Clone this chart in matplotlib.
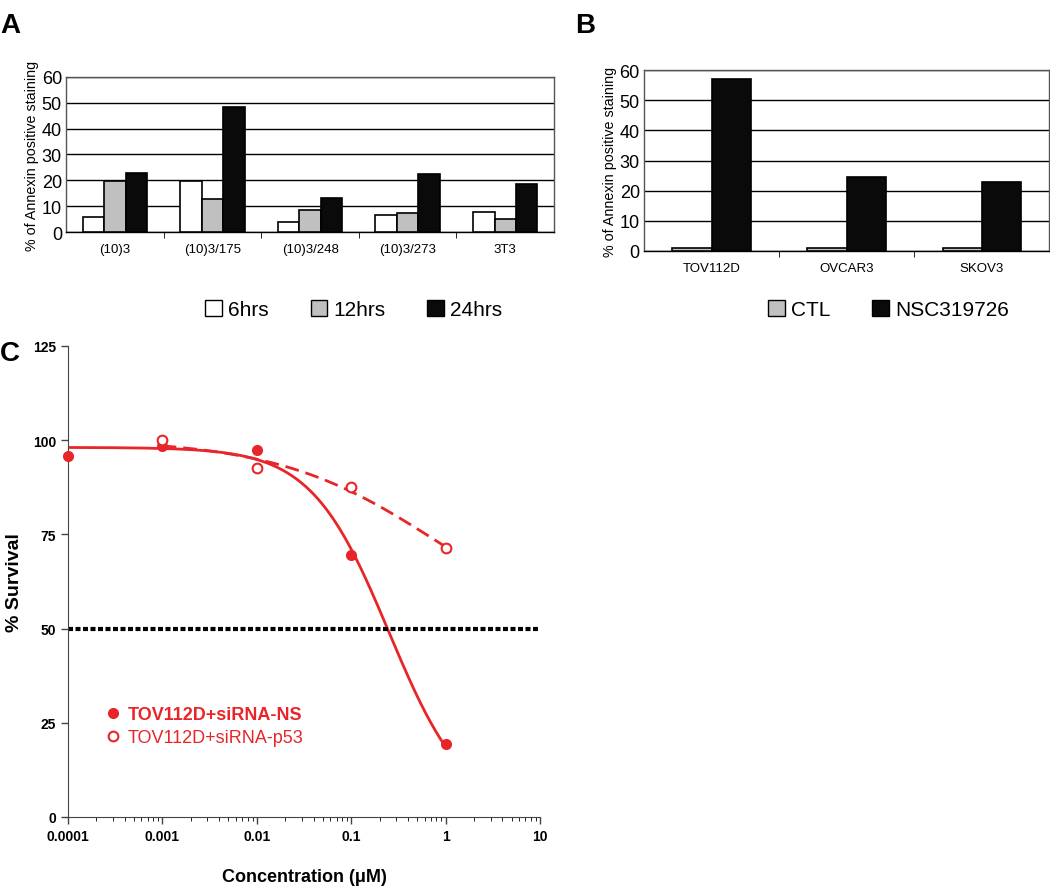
import matplotlib
matplotlib.use("Agg")
import matplotlib.pyplot as plt
from matplotlib.patches import Patch
from matplotlib.lines import Line2D
from matplotlib.ticker import FixedLocator, NullFormatter, LogLocator
import numpy as np

plt.rcParams['font.family'] = ['Liberation Sans', 'DejaVu Sans']

# ---- panel A data
lines_a = ["(10)3", "(10)3/175", "(10)3/248", "(10)3/273", "3T3"]
hrs6 = [6, 19.7, 3.7, 6.7, 7.8]
hrs12 = [19.7, 12.9, 8.6, 7.2, 5.1]
hrs24 = [23, 48.5, 13.1, 22.4, 18.6]

# ---- panel B data
lines_b = ["TOV112D", "OVCAR3", "SKOV3"]
ctl = [1.1, 1.1, 1.1]
nsc = [56.9, 24.6, 22.9]

# ---- panel C data
conc = [0.0001, 0.001, 0.01, 0.1, 1]
surv_ns = [95.8, 98.5, 97.5, 69.5, 19.5]
conc_p53 = [0.001, 0.01, 0.1, 1]
surv_p53 = [100, 92.5, 87.5, 71.5]

red = "#e8262a"

fig = plt.figure(figsize=(10.5, 8.87), dpi=100)

# ---------------- A
axA = fig.add_axes([0.0629, 0.7373, 0.4648, 0.1748])
x = np.arange(len(lines_a))
w = 0.22
axA.bar(x - w, hrs6, w, color="white", edgecolor="black", lw=1.2, zorder=3)
axA.bar(x, hrs12, w, color="#c0c0c0", edgecolor="black", lw=1.2, zorder=3)
axA.bar(x + w, hrs24, w, color="#0a0a0a", edgecolor="black", lw=1.2, zorder=3)
axA.set_xlim(-0.5, len(lines_a) - 0.5)
axA.set_ylim(0, 60)
axA.set_yticks(range(0, 61, 10))
axA.yaxis.grid(True, color="black", lw=1)
axA.set_xticks(x)
axA.set_xticklabels(lines_a, fontsize=9.5)
axA.xaxis.set_minor_locator(FixedLocator(np.arange(0.5, len(lines_a) - 0.5, 1)))
axA.tick_params(axis="x", which="major", length=0, pad=8)
axA.tick_params(axis="x", which="minor", length=4, direction="out")
axA.tick_params(axis="y", length=0, labelsize=13, pad=3)
axA.set_ylabel("% of Annexin positive staining", fontsize=10.3, labelpad=2)
for s in axA.spines.values():
    s.set_color("#555555")
    s.set_linewidth(1)
axA.spines["bottom"].set_color("black")
axA.legend(handles=[Patch(fc="white", ec="black", label="6hrs"),
                    Patch(fc="#c0c0c0", ec="black", label="12hrs"),
                    Patch(fc="#0a0a0a", ec="black", label="24hrs")],
           loc="center", bbox_to_anchor=(0.337, 0.650), bbox_transform=fig.transFigure,
           ncol=3, frameon=False, fontsize=15, handlelength=0.8, handleheight=0.8,
           handletextpad=0.3, columnspacing=2.0)
fig.text(0.0, 0.985, "A", fontsize=20, fontweight="bold", va="top")

# ---------------- B
axB = fig.add_axes([0.6133, 0.7159, 0.386, 0.204])
xb = np.arange(len(lines_b))
wb = 0.29
axB.bar(xb - wb / 2, ctl, wb, color="#c0c0c0", edgecolor="black", lw=1.2, zorder=3)
axB.bar(xb + wb / 2, nsc, wb, color="#0a0a0a", edgecolor="black", lw=1.2, zorder=3)
axB.set_xlim(-0.5, len(lines_b) - 0.5)
axB.set_ylim(0, 60)
axB.set_yticks(range(0, 61, 10))
axB.yaxis.grid(True, color="black", lw=1)
axB.set_xticks(xb)
axB.set_xticklabels(lines_b, fontsize=9.5)
axB.xaxis.set_minor_locator(FixedLocator(np.arange(0.5, len(lines_b) - 0.5, 1)))
axB.tick_params(axis="x", which="major", length=0, pad=8)
axB.tick_params(axis="x", which="minor", length=4, direction="out")
axB.tick_params(axis="y", length=0, labelsize=13, pad=3)
axB.set_ylabel("% of Annexin positive staining", fontsize=10.3, labelpad=2)
for s in axB.spines.values():
    s.set_color("#555555")
    s.set_linewidth(1)
axB.spines["bottom"].set_color("black")
axB.legend(handles=[Patch(fc="#c0c0c0", ec="black", label="CTL"),
                    Patch(fc="#0a0a0a", ec="black", label="NSC319726")],
           loc="center", bbox_to_anchor=(0.846, 0.650), bbox_transform=fig.transFigure,
           ncol=2, frameon=False, fontsize=15, handlelength=0.8, handleheight=0.8,
           handletextpad=0.3, columnspacing=2.0)
fig.text(0.548, 0.985, "B", fontsize=20, fontweight="bold", va="top")

# ---------------- C
def hill(c, top, bottom, ic50, h):
    return bottom + (top - bottom) / (1 + (c / ic50) ** h)

def fit_hill(c, y, bottom=None):
    # grid over ic50 and slope, least squares for top (and bottom if free)
    c = np.asarray(c, float)
    y = np.asarray(y, float)
    best = None
    for lic in np.linspace(-4, 1, 201):
        for h in np.linspace(0.5, 3, 51):
            g = 1 / (1 + (c / 10 ** lic) ** h)
            if bottom is None:
                A = np.column_stack([g, 1 - g])
                p, *_ = np.linalg.lstsq(A, y, rcond=None)
                top, bot = p
            else:
                bot = bottom
                top = np.sum(g * (y - bot * (1 - g))) / np.sum(g * g)
            err = np.sum((bot + (top - bot) * g - y) ** 2)
            if best is None or err < best[0]:
                best = (err, top, bot, 10 ** lic, h)
    return best[1:]

axC = fig.add_axes([0.0648, 0.0778, 0.4495, 0.531])
cc = np.logspace(-4, 0, 300)
p_ns = fit_hill(conc, surv_ns, bottom=0)
p_p53 = fit_hill(conc_p53, surv_p53)
axC.plot(cc, hill(cc, *p_ns), color=red, lw=2)
cc2 = np.logspace(-3, 0, 200)
axC.plot(cc2, hill(cc2, *p_p53), color=red, lw=2, ls=(0, (5, 2.5)))
axC.plot(conc, surv_ns, "o", color=red, ms=7, clip_on=False, zorder=5)
axC.plot(conc_p53, surv_p53, "o", mfc="white", mec=red, mew=1.5, ms=7, zorder=5)
axC.axhline(50, color="black", lw=3, ls=(0, (1.2, 0.6)))
axC.set_xscale("log")
axC.set_xlim(0.0001, 10)
axC.set_ylim(0, 125)
axC.set_yticks(range(0, 126, 25))
axC.set_xticks([0.0001, 0.001, 0.01, 0.1, 1, 10])
axC.set_xticklabels(["0.0001", "0.001", "0.01", "0.1", "1", "10"])
axC.xaxis.set_minor_locator(LogLocator(base=10, subs=np.arange(2, 10)))
axC.xaxis.set_minor_formatter(NullFormatter())
for lab in axC.get_xticklabels() + axC.get_yticklabels():
    lab.set_fontweight("bold")
axC.tick_params(labelsize=10, width=1, color="#444444")
axC.tick_params(axis="x", which="major", length=5)
axC.tick_params(axis="x", which="minor", length=3)
axC.tick_params(axis="y", length=5)
axC.spines["top"].set_visible(False)
axC.spines["right"].set_visible(False)
axC.spines["left"].set_color("#444444")
axC.spines["bottom"].set_color("#444444")
axC.set_xlabel("Concentration (\u03bcM)", fontsize=13, fontweight="bold", labelpad=18)
axC.set_ylabel("% Survival", fontsize=14, fontweight="bold")
axC.yaxis.set_label_coords(-0.095, 0.5)
leg = axC.legend(handles=[Line2D([], [], marker="o", ls="", color=red, ms=7, label="TOV112D+siRNA-NS"),
                          Line2D([], [], marker="o", ls="", mfc="white", mec=red, mew=1.5, ms=7,
                                 label="TOV112D+siRNA-p53")],
                 loc="upper left", bbox_to_anchor=(0.06, 0.25), frameon=False, fontsize=13,
                 handlelength=1.0, handletextpad=0.35, labelspacing=0.3, borderaxespad=0)
for t in leg.get_texts():
    t.set_color(red)
leg.get_texts()[0].set_fontweight("bold")
fig.text(0.0, 0.615, "C", fontsize=20, fontweight="bold", va="top")

fig.savefig("out.png", dpi=100)
